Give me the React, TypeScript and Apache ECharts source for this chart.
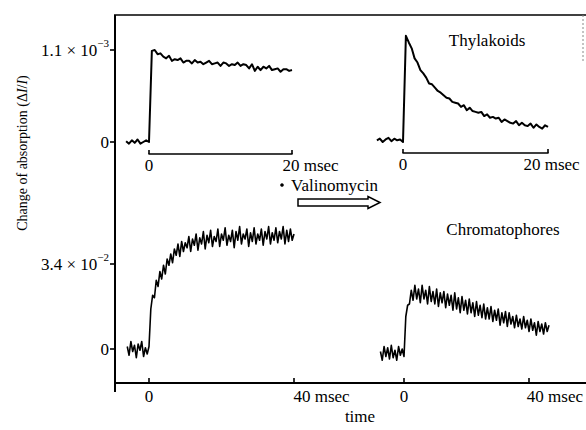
import React, { useEffect, useRef } from "react";
import * as echarts from "echarts";

const FONT = "'Liberation Serif', 'Times New Roman', serif";

// Thylakoids, control (ΔI/I in units of 10^-3), time in msec
const thyCtrlStart = -3.2;
const thyCtrlStep = 0.4;
const thyCtrlValues = [
  0.01, -0.02, 0.02, -0.01, 0.03, -0.02, 0.0, 0.02, 0.0,
  1.09, 1.1, 1.05, 1.06, 1.02, 1.0, 1.03, 0.97, 0.99, 0.98,
  1.0, 0.95, 0.97, 0.97, 0.94, 0.98, 0.95, 0.96, 0.93, 0.95,
  0.97, 0.93, 0.94, 0.95, 0.91, 0.95, 0.94, 0.91, 0.93, 0.92,
  0.95, 0.91, 0.93, 0.92, 0.88, 0.93, 0.85, 0.9, 0.86, 0.9,
  0.88, 0.91, 0.86, 0.87, 0.88, 0.84, 0.87, 0.87, 0.85, 0.86,
];

// Thylakoids + valinomycin (units of 10^-3)
const thyValStart = -3.6;
const thyValStep = 0.4;
const thyValValues = [
  0.02, 0.04, 0.0, 0.03, 0.05, 0.01, 0.04, 0.02, 0.03, 0.0,
  1.27, 1.19, 1.12, 1.0, 0.95, 0.86, 0.82, 0.77, 0.7, 0.69,
  0.65, 0.61, 0.59, 0.56, 0.53, 0.52, 0.48, 0.47, 0.46, 0.42,
  0.44, 0.38, 0.41, 0.37, 0.36, 0.35, 0.36, 0.31, 0.33, 0.29,
  0.3, 0.28, 0.29, 0.24, 0.27, 0.25, 0.23, 0.22, 0.25, 0.2,
  0.23, 0.2, 0.19, 0.22, 0.17, 0.21, 0.18, 0.16, 0.2, 0.18,
];

// Chromatophores, control (units of 10^-2)
const chrCtrlStart = -6;
const chrCtrlStep = 0.5;
const chrCtrlValues = [
  0.1, -0.25, 0.3, -0.1, 0.15, -0.35, 0.2, -0.05, 0.3, -0.3,
  0.05, -0.2, 0.1, 1.6, 2.15, 2.05, 2.75, 2.5, 3.1, 2.8,
  3.35, 3.0, 3.6, 3.35, 3.8, 3.45, 4.0, 3.75, 4.2, 3.7,
  4.3, 3.9, 4.25, 4.05, 4.5, 3.9, 4.4, 4.15, 4.6, 3.95,
  4.45, 4.2, 4.7, 4.0, 4.55, 4.25, 4.75, 4.1, 4.5, 4.3,
  4.8, 4.1, 4.6, 4.35, 4.85, 4.15, 4.55, 4.3, 4.75, 4.05,
  4.7, 4.35, 4.9, 4.2, 4.6, 4.4, 4.8, 4.1, 4.65, 4.3,
  4.85, 4.2, 4.6, 4.35, 4.8, 4.15, 4.7, 4.4, 4.9, 4.2,
  4.65, 4.35, 4.85, 4.25, 4.7, 4.4, 4.9, 4.2, 4.75, 4.3,
  4.8, 4.35, 4.6,
];

// Chromatophores + valinomycin (units of 10^-2)
const chrValStart = -6.5;
const chrValStep = 0.5;
const chrValValues = [
  -0.1, -0.45, 0.1, -0.3, 0.05, -0.4, 0.15, -0.35, -0.05, -0.45,
  0.1, -0.25, 0.0, -0.3, 1.3, 1.75, 1.8, 2.35, 1.95, 2.55,
  2.0, 2.4, 1.85, 2.55, 2.0, 2.35, 1.8, 2.5, 1.9, 2.3,
  1.8, 2.4, 1.7, 2.25, 1.85, 2.3, 1.65, 2.2, 1.75, 2.15,
  1.55, 2.25, 1.6, 2.05, 1.45, 2.1, 1.55, 1.95, 1.4, 2.0,
  1.45, 1.85, 1.3, 1.9, 1.35, 1.75, 1.25, 1.8, 1.2, 1.65,
  1.2, 1.7, 1.1, 1.55, 1.15, 1.6, 0.95, 1.45, 1.05, 1.5,
  0.9, 1.45, 1.0, 1.3, 0.85, 1.35, 0.9, 1.2, 0.8, 1.3,
  0.85, 1.15, 0.7, 1.2, 0.75, 1.05, 0.55, 1.1, 0.7, 1.0,
  0.6, 1.05, 0.7, 0.95,
];

// axis ticks
const topAbsTicks = [0, 1.1];
const topAbsExp = "−3";
const bottomAbsTicks = [0, 3.4];
const bottomAbsExp = "−2";
const topTimeTicks = [0, 20];
const bottomTimeTicks = [0, 40];
const timeUnit = "msec";

// ---- layout (pixels) ----
const TOP_ZERO_Y = 142;
const TOP_UNIT = 92 / 1.1; // px per 10^-3
const BOT_ZERO_Y = 349;
const BOT_UNIT = 85 / 3.4; // px per 10^-2
const FRAME_X = 115;

const toPairs = (start: number, step: number, vals: number[]) =>
  vals.map((v, i) => [+(start + i * step).toFixed(3), v]);

const labelBase = { fontFamily: FONT, fontSize: 17, color: "#000" };

type Trace = {
  start: number; step: number; values: number[];
  zeroX: number; pxPerMs: number; zeroY: number; unit: number; yMin: number; yMax: number;
};

const traces: Trace[] = [
  { start: thyCtrlStart, step: thyCtrlStep, values: thyCtrlValues, zeroX: 149, pxPerMs: 143 / 20, zeroY: TOP_ZERO_Y, unit: TOP_UNIT, yMin: -0.1, yMax: 1.35 },
  { start: thyValStart, step: thyValStep, values: thyValValues, zeroX: 403, pxPerMs: 145 / 20, zeroY: TOP_ZERO_Y, unit: TOP_UNIT, yMin: -0.1, yMax: 1.35 },
  { start: chrCtrlStart, step: chrCtrlStep, values: chrCtrlValues, zeroX: 149, pxPerMs: 145 / 40, zeroY: BOT_ZERO_Y, unit: BOT_UNIT, yMin: -0.7, yMax: 5.1 },
  { start: chrValStart, step: chrValStep, values: chrValValues, zeroX: 404, pxPerMs: 145 / 40, zeroY: BOT_ZERO_Y, unit: BOT_UNIT, yMin: -0.7, yMax: 5.1 },
];

// time-axis brackets: [zeroX, pxPerMs, ticks, axisY, showLine, labelPadLeft, labelMargin]
const timeAxes: [number, number, number[], number, boolean, number, number][] = [
  [149, 143 / 20, topTimeTicks, 154, true, 37, 3],
  [403, 145 / 20, topTimeTicks, 153, true, 7, 3],
  [149, 145 / 40, bottomTimeTicks, 383, false, 55, 5],
  [404, 145 / 40, bottomTimeTicks, 383, false, 53, 5],
];

const absAxes: [number[], string, number, number][] = [
  [topAbsTicks, topAbsExp, TOP_ZERO_Y, TOP_UNIT],
  [bottomAbsTicks, bottomAbsExp, BOT_ZERO_Y, BOT_UNIT],
];

const hiddenAxis = (gridIndex: number) => ({
  type: "value", gridIndex, min: 0, max: 1, show: false,
  axisLine: { show: false }, axisTick: { show: false }, axisLabel: { show: false }, splitLine: { show: false },
});

function buildOption() {
  const grid: any[] = [];
  const xAxis: any[] = [];
  const yAxis: any[] = [];
  const series: any[] = [];

  traces.forEach((tr) => {
    const gi = grid.length;
    const tEnd = +(tr.start + (tr.values.length - 1) * tr.step).toFixed(3);
    grid.push({
      left: tr.zeroX + tr.start * tr.pxPerMs,
      width: (tEnd - tr.start) * tr.pxPerMs,
      top: tr.zeroY - tr.yMax * tr.unit,
      height: (tr.yMax - tr.yMin) * tr.unit,
    });
    xAxis.push({ type: "value", gridIndex: gi, min: tr.start, max: tEnd, show: false, splitLine: { show: false } });
    yAxis.push({ type: "value", gridIndex: gi, min: tr.yMin, max: tr.yMax, show: false, splitLine: { show: false } });
    series.push({
      type: "line",
      xAxisIndex: gi,
      yAxisIndex: gi,
      data: toPairs(tr.start, tr.step, tr.values),
      showSymbol: false,
      symbol: "none",
      silent: true,
      lineStyle: { color: "#000", width: gi < 2 ? 2 : 1.6, join: "round" },
    });
  });

  timeAxes.forEach(([zeroX, pxPerMs, ticks, axisY, showLine, pad, margin]) => {
    const gi = grid.length;
    grid.push({ left: zeroX, width: (ticks[1] - ticks[0]) * pxPerMs, top: axisY - 1, height: 1 });
    xAxis.push({
      type: "value",
      gridIndex: gi,
      min: ticks[0],
      max: ticks[1],
      interval: ticks[1] - ticks[0],
      position: "bottom",
      axisLine: { show: showLine, onZero: false, lineStyle: { color: "#000", width: 1.6 } },
      axisTick: { show: true, inside: true, length: showLine ? 4 : 5, lineStyle: { color: "#000", width: 1.6 } },
      splitLine: { show: false },
      axisLabel: {
        ...labelBase,
        margin,
        formatter: (v: number) => (v === 0 ? "0" : `{m|${v} ${timeUnit}}`),
        rich: { m: { ...labelBase, padding: [0, 0, 0, pad] } },
      },
    });
    yAxis.push(hiddenAxis(gi));
  });

  absAxes.forEach(([ticks, exp, zeroY, unit]) => {
    const gi = grid.length;
    grid.push({ left: FRAME_X, width: 1, top: zeroY - ticks[1] * unit, height: (ticks[1] - ticks[0]) * unit });
    xAxis.push(hiddenAxis(gi));
    yAxis.push({
      type: "value",
      gridIndex: gi,
      min: ticks[0],
      max: ticks[1],
      interval: ticks[1] - ticks[0],
      position: "left",
      axisLine: { show: false },
      axisTick: { show: true, inside: false, length: 5, lineStyle: { color: "#000", width: 1.6 } },
      splitLine: { show: false },
      axisLabel: {
        ...labelBase,
        margin: 6,
        formatter: (v: number) => (v === 0 ? "0" : `{m|${v} × 10}{s|${exp}}`),
        rich: {
          m: { ...labelBase },
          s: { ...labelBase, fontSize: 11, padding: [0, 0, 14, 0] },
        },
      },
    });
  });

  return { grid, xAxis, yAxis, series };
}

export default function App() {
  const ref = useRef<HTMLDivElement>(null);
  useEffect(() => {
    if (!ref.current) return;
    const chart = echarts.init(ref.current, undefined, { renderer: "svg" });
    const txt = (x: number, y: number, text: string, extra: any = {}) => ({
      type: "text",
      x,
      y,
      silent: true,
      style: { text, fontFamily: FONT, fontSize: 17, fill: "#000", align: "center", verticalAlign: "middle", ...extra },
    });
    const { grid, xAxis, yAxis, series } = buildOption();
    chart.setOption({
      animation: false,
      backgroundColor: "#fff",
      grid,
      xAxis,
      yAxis,
      series,
      graphic: [
        { type: "line", silent: true, shape: { x1: FRAME_X, y1: 15, x2: FRAME_X, y2: 392 }, style: { stroke: "#000", lineWidth: 2 } },
        { type: "line", silent: true, shape: { x1: FRAME_X - 1, y1: 15, x2: 586, y2: 15 }, style: { stroke: "#000", lineWidth: 1.5 } },
        { type: "line", silent: true, shape: { x1: FRAME_X - 1, y1: 383, x2: 586, y2: 383 }, style: { stroke: "#000", lineWidth: 2 } },
        { type: "line", silent: true, shape: { x1: 583, y1: 15, x2: 583, y2: 62 }, style: { stroke: "#888", lineWidth: 1, lineDash: [2, 2] } },
        {
          type: "polygon",
          silent: true,
          shape: {
            points: [[298, 199], [368, 199], [368, 196.5], [380, 202.5], [368, 208.5], [368, 206], [298, 206]],
          },
          style: { fill: "#fff", stroke: "#000", lineWidth: 1.5 },
        },
        { type: "circle", silent: true, shape: { cx: 282, cy: 185, r: 1.8 }, style: { fill: "#000" } },
        txt(291, 185, "Valinomycin", { align: "left" }),
        txt(487, 40, "Thylakoids"),
        txt(503, 229, "Chromatophores"),
        txt(360, 416, "time"),
        {
          type: "text",
          x: 22,
          y: 153,
          rotation: Math.PI / 2,
          silent: true,
          style: {
            text: "Change of absorption (Δ{i|I}/{i|I})",
            fontFamily: FONT,
            fontSize: 14,
            fill: "#000",
            align: "center",
            verticalAlign: "middle",
            rich: { i: { fontFamily: FONT, fontSize: 14, fontStyle: "italic", fill: "#000" } },
          },
        },
      ],
    });
    return () => chart.dispose();
  }, []);
  return (
    <div
      ref={ref}
      style={{ position: "absolute", left: 0, top: 0, width: 586, height: 430, background: "#fff" }}
    />
  );
}
